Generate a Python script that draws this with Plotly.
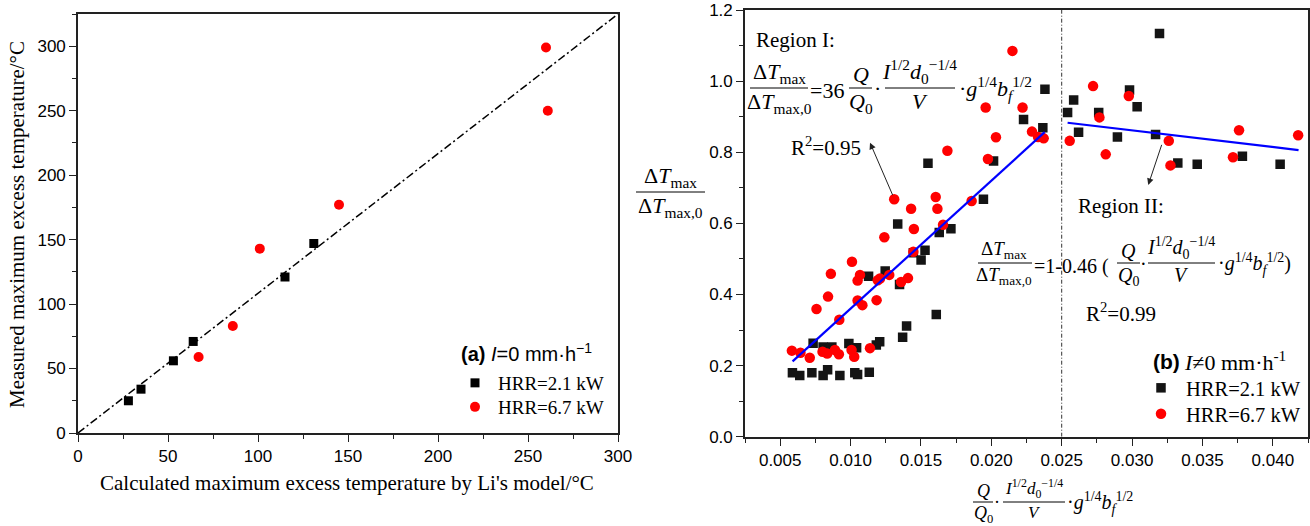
import plotly.graph_objects as go

# ---------------- data ----------------
# (a) I = 0 mm/h : calculated vs measured maximum excess temperature (°C)
calc_21 = [28, 35, 53, 64, 115, 131]
meas_21 = [25, 34, 56, 71, 121, 147]
calc_67 = [67, 86, 101, 145, 260, 261]
meas_67 = [59, 83, 143, 177, 299, 250]
diag_x = [0, 300]
diag_y = [0, 325]

# (b) I != 0 mm/h : dimensionless temperature vs combined parameter
x_21 = [0.00587, 0.00639, 0.00725, 0.00805, 0.00837, 0.00924, 0.0103, 0.0105, 0.01133,
        0.00734, 0.00805, 0.00867, 0.00988, 0.01043, 0.01183, 0.01207, 0.0137, 0.01398, 0.01609,
        0.01128, 0.01246, 0.01348, 0.01335, 0.01446, 0.01529, 0.01501, 0.0163, 0.01713, 0.0155,
        0.01944, 0.02016, 0.02229, 0.02366, 0.02381,
        0.02542, 0.02585, 0.0262, 0.02763, 0.02982, 0.03036, 0.02896, 0.03167, 0.03325,
        0.03463, 0.03784, 0.04052, 0.03195]
y_21 = [0.180, 0.172, 0.180, 0.172, 0.188, 0.172, 0.180, 0.175, 0.181,
        0.263, 0.252, 0.252, 0.262, 0.250, 0.258, 0.267, 0.280, 0.311, 0.344,
        0.451, 0.466, 0.428, 0.598, 0.517, 0.524, 0.497, 0.574, 0.585, 0.769,
        0.668, 0.775, 0.892, 0.869, 0.977,
        0.912, 0.947, 0.856, 0.912, 0.975, 0.928, 0.843, 0.850, 0.770,
        0.766, 0.789, 0.766, 1.134]
x_67 = [0.00583, 0.00644, 0.0071, 0.00801, 0.00834, 0.00889, 0.00917, 0.01007, 0.01026, 0.01138,
        0.00758, 0.0084, 0.0086, 0.0092, 0.0101, 0.0105, 0.01084, 0.0105, 0.01067, 0.01185,
        0.01193, 0.01209, 0.01275, 0.01359, 0.01408, 0.01446, 0.0124, 0.0145, 0.0131, 0.0143,
        0.01605, 0.01617, 0.01657, 0.0186, 0.01688, 0.01976, 0.02033, 0.0196, 0.0215, 0.02222,
        0.02289, 0.02332, 0.02372,
        0.02557, 0.02723, 0.02768, 0.02813, 0.02977, 0.03261, 0.03273, 0.0376, 0.03717, 0.0418]
y_67 = [0.242, 0.236, 0.222, 0.239, 0.234, 0.244, 0.232, 0.244, 0.225, 0.249,
        0.359, 0.394, 0.458, 0.329, 0.492, 0.383, 0.370, 0.439, 0.455, 0.384,
        0.440, 0.445, 0.455, 0.435, 0.446, 0.520, 0.561, 0.584, 0.668, 0.641,
        0.674, 0.641, 0.596, 0.663, 0.804, 0.781, 0.842, 0.926, 1.085, 0.926,
        0.858, 0.843, 0.839,
        0.832, 0.986, 0.898, 0.794, 0.958, 0.832, 0.763, 0.862, 0.786, 0.848]

# Region I fit: y = 36 x ; Region II fit line end points
fit1_slope = 36
fit1_x = [0.00588, 0.02379]
fit2_x = [0.02542, 0.04183]
fit2_y = [0.883, 0.806]
region_split = 0.025

x_ticks_b = [0.005, 0.010, 0.015, 0.020, 0.025, 0.030, 0.035, 0.040]
y_ticks_b = [0.0, 0.2, 0.4, 0.6, 0.8, 1.0, 1.2]
ticks_a = [0, 50, 100, 150, 200, 250, 300]

# ---------------- helpers ----------------
W, H = 1310, 526
SERIF = "Liberation Serif, Times New Roman, serif"
SANS = "Liberation Sans, Arial, sans-serif"


def px(x):
    return x / W


def py(y):
    return 1 - y / H


annotations = []
shapes = []


def txt(s, x, y, size, family=SERIF, xanchor="left", yanchor="middle", **kw):
    annotations.append(dict(text=s, x=px(x), y=py(y), xref="paper", yref="paper",
                            showarrow=False, xanchor=xanchor, yanchor=yanchor,
                            font=dict(family=family, size=size, color="black"), **kw))


def frac(num, den, cx, ybar, x0, x1, size, lw=1):
    shapes.append(dict(type="line", xref="paper", yref="paper",
                       x0=px(x0), x1=px(x1), y0=py(ybar), y1=py(ybar),
                       line=dict(color="black", width=lw)))
    txt(num, cx, ybar + 1, size, xanchor="center", yanchor="bottom")
    txt(den, cx, ybar - 1, size, xanchor="center", yanchor="top")


def legend_box(x, y, size, width):
    return dict(x=px(x), y=py(y), xanchor="left", yanchor="middle",
                font=dict(family=SERIF, size=size, color="black"),
                bgcolor="rgba(0,0,0,0)", borderwidth=0, itemwidth=width)


DT = "Δ<i>T</i><sub>max</sub>"
DT0 = "Δ<i>T</i><sub>max,0</sub>"
IDV = "<i>I</i><sup>1/2</sup><i>d</i><sub>0</sub><sup>−1/4</sup>"
GB = "·<i>g</i><sup>1/4</sup><i>b</i><sub><i>f</i></sub><sup>1/2</sup>"

fig = go.Figure()

# ---------------- panel (a) ----------------
fig.add_trace(go.Scatter(x=diag_x, y=diag_y, mode="lines", xaxis="x", yaxis="y",
                         line=dict(color="black", width=1.5, dash="8px,3px,2px,3px"),
                         showlegend=False, hoverinfo="skip"))
fig.add_trace(go.Scatter(x=calc_21, y=meas_21, mode="markers", name="HRR=2.1 kW",
                         xaxis="x", yaxis="y", legend="legend",
                         marker=dict(symbol="square", size=9, color="black")))
fig.add_trace(go.Scatter(x=calc_67, y=meas_67, mode="markers", name="HRR=6.7 kW",
                         xaxis="x", yaxis="y", legend="legend3",
                         marker=dict(symbol="circle", size=10, color="#ff0000")))

# ---------------- panel (b) ----------------
fig.add_trace(go.Scatter(x=x_21, y=y_21, mode="markers", name="HRR=2.1 kW",
                         xaxis="x2", yaxis="y2", legend="legend2",
                         marker=dict(symbol="square", size=9.5, color="#141414")))
fig.add_trace(go.Scatter(x=x_67, y=y_67, mode="markers", name="HRR=6.7 kW",
                         xaxis="x2", yaxis="y2", legend="legend4",
                         marker=dict(symbol="circle", size=10.5, color="#ff0000")))
fig.add_trace(go.Scatter(x=fit1_x, y=[fit1_slope * v for v in fit1_x], mode="lines",
                         xaxis="x2", yaxis="y2", showlegend=False, hoverinfo="skip",
                         line=dict(color="#0000ff", width=2.2)))
fig.add_trace(go.Scatter(x=fit2_x, y=fit2_y, mode="lines",
                         xaxis="x2", yaxis="y2", showlegend=False, hoverinfo="skip",
                         line=dict(color="#0000ff", width=2.2)))
fig.add_trace(go.Scatter(x=[region_split, region_split], y=[0, 1.2], mode="lines",
                         xaxis="x2", yaxis="y2", showlegend=False, hoverinfo="skip",
                         line=dict(color="#333333", width=1, dash="4px,2px,1px,2px")))

axis_common = dict(showline=True, mirror=True, linecolor="#222222", linewidth=1.6,
                   showgrid=False, zeroline=False, ticks="outside", ticklen=7,
                   tickwidth=1.4, tickcolor="#222222", automargin=False,
                   tickfont=dict(family=SANS, size=17, color="black"))

# ---------------- text ----------------
# panel (a)
txt("Calculated maximum excess temperature by Li's model/°C", 347, 483, 21,
    xanchor="center")
txt("Measured maximum excess temperature/°C", 17, 225, 21, xanchor="center",
    textangle=-90)
txt("<b>(a)</b> <i>I</i>=0 mm·h<sup>−1</sup>", 459, 352, 20, family=SANS)

# panel (b)
txt("Region I:", 754, 40, 21)
frac(DT, DT0, 779, 88, 750, 808, 22)
txt("=36", 808, 91, 22)
frac("<i>Q</i>", "<i>Q</i><sub>0</sub>", 861, 88, 849, 872, 22)
txt("·", 877, 89, 22, xanchor="center")
frac(IDV, "<i>V</i>", 920, 88, 885, 955, 22)
txt(GB, 957, 89, 22)
txt("R<sup>2</sup>=0.95", 789, 146, 21)

txt("Region II:", 1076, 206, 21)
frac(DT, DT0, 1004, 263, 978, 1032, 19)
txt("=1-0.46 (", 1032, 266, 20)
frac("<i>Q</i>", "<i>Q</i><sub>0</sub>", 1128, 263, 1117, 1140, 20)
txt("·", 1143, 264, 20, xanchor="center")
frac(IDV, "<i>V</i>", 1181, 263, 1148, 1215, 20)
txt(GB + ")", 1216, 264, 20)
txt("R<sup>2</sup>=0.99", 1084, 312, 21)

txt("<b>(b)</b>", 1151, 361, 21, family=SANS)
txt("<i>I</i>≠0 mm·h<sup>-1</sup>", 1182, 361, 22)

# axis titles of panel (b)
frac(DT, DT0, 670, 192, 636, 705, 22)
frac("<i>Q</i>", "<i>Q</i><sub>0</sub>", 983, 502, 973, 993, 18)
txt("·", 997, 502, 18, xanchor="center")
frac(IDV, "<i>V</i>", 1034, 502, 1003, 1065, 17)
txt(GB, 1065, 503, 20)

# arrows pointing at the two fitted lines
annotations.append(dict(x=0.01138, y=0.827, ax=0.01304, ay=0.675, xref="x2", yref="y2",
                        axref="x2", ayref="y2", text="", showarrow=True, arrowhead=2,
                        arrowsize=1.3, arrowwidth=1, arrowcolor="#222222"))
annotations.append(dict(x=0.03115, y=0.708, ax=0.03214, ay=0.825, xref="x2", yref="y2",
                        axref="x2", ayref="y2", text="", showarrow=True, arrowhead=2,
                        arrowsize=1.3, arrowwidth=1, arrowcolor="#222222"))

fig.update_layout(
    width=W, height=H, autosize=False,
    margin=dict(l=0, r=0, t=0, b=0, pad=0, autoexpand=False),
    paper_bgcolor="white", plot_bgcolor="white",
    xaxis=dict(domain=[px(78), px(618)], range=[0, 300], anchor="y",
               tickvals=ticks_a, minor=dict(ticks="outside", ticklen=4, dtick=25,
                                            tickwidth=1.4, tickcolor="#222222"),
               **axis_common),
    yaxis=dict(domain=[py(433), py(14)], range=[0, 325], anchor="x",
               tickvals=ticks_a, minor=dict(ticks="outside", ticklen=4, dtick=25,
                                            tickwidth=1.4, tickcolor="#222222"),
               **axis_common),
    xaxis2=dict(domain=[px(745), px(1308)], range=[0.0025, 0.0425], anchor="y2",
                tickvals=x_ticks_b, tickformat=".3f",
                minor=dict(ticks="outside", ticklen=4, dtick=0.0025, tick0=0.0025,
                           tickwidth=1.4, tickcolor="#222222"),
                **axis_common),
    yaxis2=dict(domain=[py(436.7), py(10)], range=[0, 1.2], anchor="x2",
                tickvals=y_ticks_b, tickformat=".1f",
                minor=dict(ticks="outside", ticklen=4, dtick=0.1,
                           tickwidth=1.4, tickcolor="#222222"),
                **axis_common),
    legend=legend_box(452, 383, 19, 36),
    legend3=legend_box(452, 407, 19, 36),
    legend2=legend_box(1136, 388, 20.5, 40),
    legend4=legend_box(1136, 414, 20.5, 40),
    annotations=annotations,
    shapes=shapes,
    showlegend=True,
)

fig.write_html("out.html")
